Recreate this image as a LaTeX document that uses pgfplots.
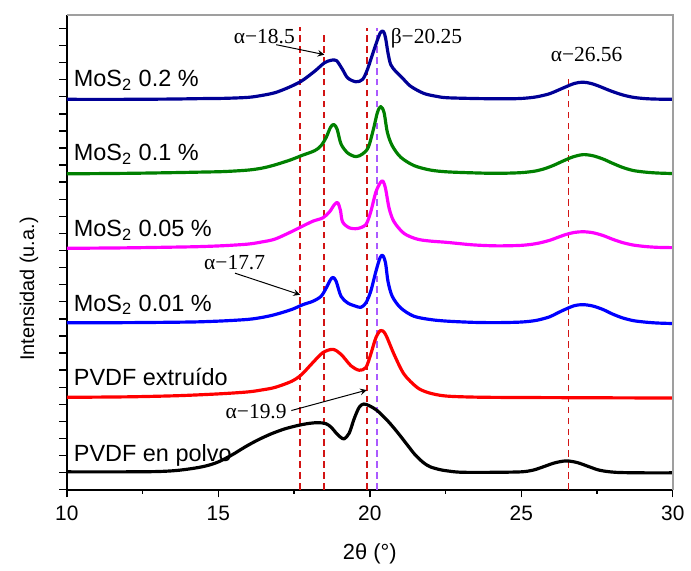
\documentclass[border=0pt]{standalone}
\usepackage{fontspec}
\setmainfont{Liberation Sans}
\newfontfamily\serif{Liberation Serif}
\usepackage{pgfplots}
\pgfplotsset{compat=1.18}
\definecolor{cnavy}{RGB}{0,0,150}
\definecolor{cgreen}{RGB}{0,128,0}
\definecolor{cmag}{RGB}{255,0,255}
\definecolor{cblue}{RGB}{0,0,255}
\definecolor{cred}{RGB}{255,0,0}
\definecolor{dred}{RGB}{210,20,20}
\definecolor{dpur}{RGB}{170,90,255}
\newcommand\lf{\fontsize{11.8}{13}\selectfont}
\newcommand\af{\serif\fontsize{10.8}{12}\selectfont}
\begin{document}
\begin{tikzpicture}
\path (-33.65pt,-38pt) rectangle (311.85pt,246.5pt);
\begin{axis}[
 at={(0,0)}, anchor=south west, scale only axis,
 width=305pt, height=239pt,
 xmin=10, xmax=30, ymin=0, ymax=478,
 axis x line*=bottom, axis y line*=left,
 axis line style={line width=0.8pt, -},
 xtick={10,15,20,25,30}, minor x tick num=1,
 ytick={0,17.2,...,470}, yticklabels={},
 tick align=outside, major tick length=3.8pt, minor tick length=2pt,
 tick style={black, line width=0.7pt},
 tick label style={font=\fontsize{10.5}{11}\selectfont},
 xticklabel style={yshift=-1pt},
 /pgf/number format/assume math mode=true,
 clip=false,
 every axis plot/.append style={line join=round},
]
% reference lines
\addplot[dred, line width=0.9pt, dash pattern=on 3.3pt off 2.2pt] coordinates {(17.7,0)(17.7,466)};
\addplot[dred, line width=0.9pt, dash pattern=on 3.3pt off 2.2pt] coordinates {(18.5,0)(18.5,458)};
\addplot[dred, line width=0.9pt, dash pattern=on 3.3pt off 2.2pt] coordinates {(19.9,0)(19.9,465)};
\addplot[dpur, line width=0.9pt, dash pattern=on 3.3pt off 2.2pt] coordinates {(20.25,0)(20.25,465)};
\addplot[dred, line width=0.9pt, dash pattern=on 3.3pt off 2.2pt] coordinates {(26.56,0)(26.56,416)};
% curves
\addplot[cnavy, line width=1.6pt, smooth] coordinates {(10,393)(12,393)(13.5,393.3)(14.35,393.7)(15.2,394)(15.99,395)(16.45,397)(16.87,399.7)(17.30,404.7)(17.74,411.3)(18.18,421.3)(18.50,429.7)(18.72,432.3)(18.90,432)(19.10,423)(19.27,414.5)(19.54,410.7)(19.76,413)(19.92,423)(20.14,443)(20.34,459.7)(20.45,461.3)(20.52,454.7)(20.60,439.7)(20.69,428)(20.85,421.3)(21.07,414.7)(21.34,406.3)(21.78,399)(22.2,396)(22.55,394.6)(23.5,393.8)(24.5,393.5)(25.06,394)(25.5,395.5)(25.92,398.5)(26.2,402)(26.48,405.7)(26.75,409)(27.03,410.3)(27.3,409)(27.56,406.3)(27.95,401.5)(28.34,397.5)(28.7,395)(29.10,393.7)(29.5,393.2)(30,393)};
\addplot[cgreen, line width=1.6pt, smooth] coordinates {(10,318)(12,318.5)(13.5,319.2)(14.35,319.7)(15.2,320.3)(15.99,321.8)(16.45,323.8)(16.87,327)(17.41,332.3)(17.74,336.3)(18.18,341.3)(18.39,346.3)(18.56,354.7)(18.70,364.7)(18.81,367.7)(18.92,363)(19.05,348)(19.27,339)(19.54,335.3)(19.76,338)(19.95,344.7)(20.12,363)(20.25,379.7)(20.36,385.7)(20.47,379.7)(20.58,359.7)(20.74,346.3)(21.02,334.7)(21.46,326.3)(22.00,321.8)(22.55,320)(23.4,319)(24.19,318.5)(25.0,319.2)(25.5,321)(25.83,323.8)(26.1,327)(26.37,330.8)(26.7,335)(27.03,337.3)(27.35,336.3)(27.69,333)(28.0,328.8)(28.34,324.5)(28.7,321.3)(29.10,319.7)(29.5,318.8)(30,318.3)};
\addplot[cmag, line width=1.6pt, smooth] coordinates {(10,243)(12,243.5)(13.5,244.2)(14.35,244.7)(15.2,245.7)(15.99,247.3)(16.45,249.5)(16.87,252.3)(17.41,259.7)(17.74,264.7)(18.12,270.3)(18.45,273.7)(18.67,279.7)(18.83,287)(18.94,289)(19.03,281.3)(19.10,269.7)(19.32,263.7)(19.60,263)(19.87,267)(20.03,279.7)(20.20,299.7)(20.36,309.7)(20.44,310.3)(20.52,303)(20.64,283)(20.80,269.7)(21.13,258)(21.56,252.3)(22.0,250.3)(22.55,249)(23.4,246.5)(24.19,245.5)(25.0,246)(25.5,247.8)(25.93,251)(26.2,254)(26.48,257)(26.75,259)(27.03,259.7)(27.35,258.8)(27.69,256)(28.0,252.3)(28.34,248.8)(28.7,246.3)(29.10,244.8)(29.5,244)(30,243.7)};
\addplot[cblue, line width=1.6pt, smooth] coordinates {(10,168)(12,168.2)(13.5,168.6)(14.35,169)(15.2,170)(15.99,171.5)(16.45,173.5)(16.87,176.3)(17.41,181.3)(17.79,186.3)(18.12,189.7)(18.39,194.7)(18.56,203)(18.70,211.3)(18.79,213.7)(18.89,209.7)(19.05,194.7)(19.27,188)(19.54,184.7)(19.71,183.7)(19.87,188)(20.03,199.7)(20.20,219.7)(20.34,233.7)(20.43,235.7)(20.52,228)(20.60,209.7)(20.74,194.7)(21.02,183)(21.45,174.7)(22.0,171.3)(22.55,169.7)(23.4,168.5)(24.19,168.2)(25.0,168.8)(25.5,170.5)(25.93,174)(26.2,178)(26.48,182)(26.75,185.3)(27.03,186.3)(27.35,185)(27.69,181.5)(28.0,177)(28.34,173)(28.7,170.2)(29.10,168.7)(29.5,167.8)(30,167.3)};
\addplot[cred, line width=1.6pt, smooth] coordinates {(10,93)(12,93.5)(13.5,94.5)(14.35,95.5)(15.2,96.8)(15.99,98.5)(16.45,100.5)(16.87,103)(17.41,109)(17.74,115.7)(18.12,128)(18.45,138)(18.78,141.3)(19.05,136.3)(19.38,124.7)(19.65,120.3)(19.87,123)(20.03,136.3)(20.20,153)(20.36,160.3)(20.52,156.3)(20.80,136.3)(21.13,116.3)(21.56,103)(21.9,98)(22.33,95)(22.8,93.8)(23.97,93)(27,92.6)(30,92.3)};
\addplot[black, line width=1.6pt, smooth] coordinates {(10,18)(12,18)(13.0,18.3)(13.6,19.3)(14.13,21.3)(14.6,24)(15.0,28)(15.45,35)(15.88,43)(16.3,50)(16.75,56.3)(17.2,61.3)(17.63,64.7)(18.0,66.8)(18.3,67.5)(18.55,66.5)(18.72,63)(18.92,56)(19.05,52.5)(19.16,51.3)(19.32,57)(19.49,72)(19.65,83)(19.8,86.3)(20.0,84.3)(20.25,79.5)(20.6,69)(20.92,57.5)(21.24,45)(21.5,35)(21.78,27)(22.0,23)(22.3,20.3)(22.55,19)(23.0,17.6)(24.0,17.5)(25.0,18)(25.4,19.8)(25.72,23)(26.1,27)(26.48,29)(26.85,27.3)(27.25,23)(27.6,19.5)(28.12,17.5)(29,17)(30,17)};
% frame top/right
\draw[gray!75, line width=0.8pt] (rel axis cs:0,1) -- (rel axis cs:1,1) -- (rel axis cs:1,0);
% curve labels
\node[anchor=base west, inner sep=0] at (axis cs:10.22,405.7) {\lf MoS\textsubscript{2} 0.2 \%};
\node[anchor=base west, inner sep=0] at (axis cs:10.22,331.3) {\lf MoS\textsubscript{2} 0.1 \%};
\node[anchor=base west, inner sep=0] at (axis cs:10.22,254.7) {\lf MoS\textsubscript{2} 0.05 \%};
\node[anchor=base west, inner sep=0] at (axis cs:10.22,179.7) {\lf MoS\textsubscript{2} 0.01 \%};
\node[anchor=base west, inner sep=0] at (axis cs:10.22,104.7) {\lf PVDF extruído};
\node[anchor=base west, inner sep=0] at (axis cs:10.22,28) {\lf PVDF en polvo};
% annotations
\node[anchor=base west, inner sep=0] at (axis cs:15.5,449) {\af α−18.5};
\draw[-stealth, line width=0.5pt] (axis cs:16.91,448) -- (axis cs:18.5,438);
\node[anchor=base west, inner sep=0] at (axis cs:20.68,449.7) {\af β−20.25};
\node[anchor=base west, inner sep=0] at (axis cs:25.96,431.3) {\af α−26.56};
\node[anchor=base west, inner sep=0] at (axis cs:14.52,221.3) {\af α−17.7};
\draw[-stealth, line width=0.5pt] (axis cs:15.55,218) -- (axis cs:17.7,196.3);
\node[anchor=base west, inner sep=0] at (axis cs:15.23,71.3) {\af α−19.9};
\draw[-stealth, line width=0.5pt] (axis cs:17.41,79.7) -- (axis cs:19.9,100.3);
\end{axis}
\node[rotate=90] at (-19pt,101pt) {\fontsize{10}{12}\selectfont Intensidad (u.a.)};
\node[anchor=base] at (152.5pt,-35pt) {\fontsize{11}{12}\selectfont 2θ (°)};
\end{tikzpicture}
\end{document}
